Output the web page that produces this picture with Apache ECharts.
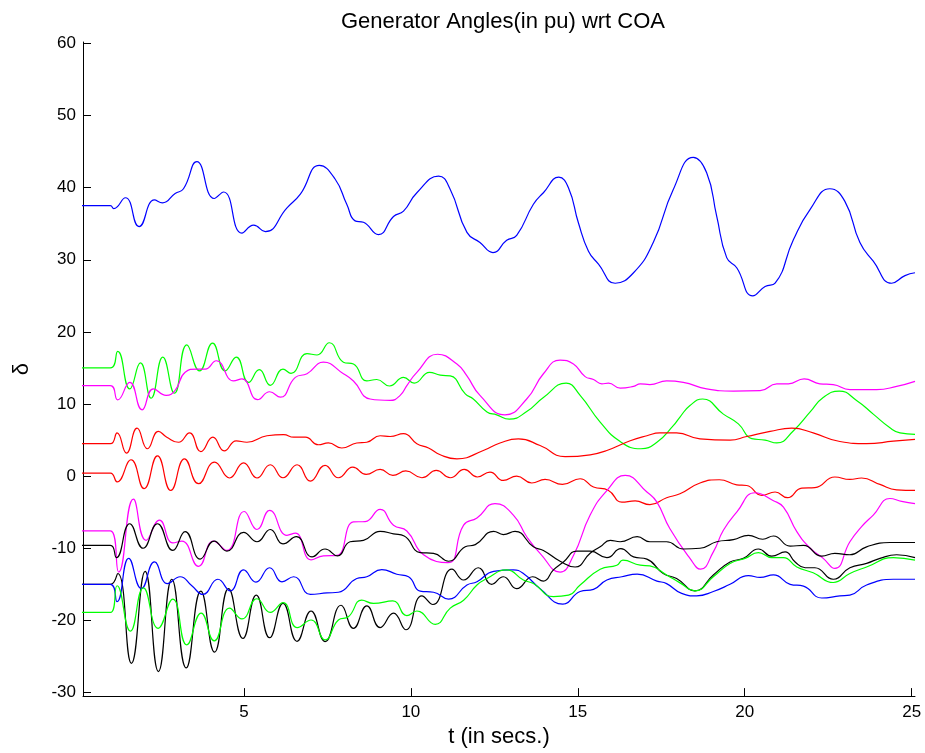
<!DOCTYPE html>
<html>
<head>
<meta charset="utf-8">
<script src="https://cdn.jsdelivr.net/npm/echarts@6/dist/echarts.min.js"></script>
<style>
  html, body { margin: 0; padding: 0; background: #fff; }
  #chart { width: 925px; height: 753px; }
</style>
</head>
<body>
<div id="chart"></div>
<script>
// tick labels
var xTicks = [5, 10, 15, 20, 25]
var yTicks = [-30, -20, -10, 0, 10, 20, 30, 40, 50, 60]

// time (s) and angle for each generator
var blueTopT = [0, 1.0, 1.10, 1.45, 1.86, 2.32, 2.56, 2.94, 3.19, 3.59, 4.11, 4.39, 4.94, 5.29, 5.64, 6.29, 6.69, 7.26, 7.73, 8.08, 8.33, 8.58, 9.03, 9.48, 9.78, 10.18, 10.83, 11.18, 11.68, 12.07, 12.46, 12.87, 13.17, 13.67, 13.97, 14.43, 14.72, 15.02, 15.32, 15.62, 16.12, 16.67, 17.26, 17.86, 18.46, 18.86, 19.16, 19.46, 19.76, 20.24, 20.61, 20.91, 21.46, 21.96, 22.55, 23.0, 23.45, 23.85, 24.40, 24.80, 25.10]
var blueTopV = [37.5, 37.5, 37.1, 38.6, 34.6, 38.3, 37.9, 39.2, 39.85, 43.6, 38.5, 39.4, 33.7, 34.8, 33.9, 37.2, 39.1, 43.1, 41.2, 37.7, 35.4, 35.2, 33.5, 36.0, 36.75, 39.3, 41.6, 39.75, 33.8, 32.4, 31.0, 32.7, 33.4, 37.7, 39.3, 41.45, 40.0, 35.1, 31.2, 29.4, 26.75, 28.2, 32.4, 39.75, 44.2, 42.06, 36.06, 30.3, 28.9, 25.0, 26.3, 26.75, 32.8, 37.0, 39.85, 38.1, 32.4, 29.8, 26.75, 27.8, 28.2]

var greenTopT = [0, 1.0, 1.22, 1.58, 1.90, 2.22, 2.57, 2.92, 3.29, 3.67, 4.06, 4.44, 4.77, 5.14, 5.46, 5.79, 6.17, 6.41, 6.89, 7.19, 7.56, 7.98, 8.28, 8.68, 8.98, 9.36, 9.78, 10.10, 10.56, 10.88, 11.18, 11.63, 11.87, 12.28, 12.57, 12.95, 13.47, 13.97, 14.65, 15.07, 15.67, 16.27, 16.89, 17.37, 17.86, 18.06, 18.36, 18.74, 19.36, 19.81, 20.21, 20.61, 20.96, 21.46, 21.96, 22.35, 22.83, 23.35, 23.85, 24.35, 24.65, 25.10]
var greenTopV = [15, 15, 17.3, 12.1, 15.7, 10.8, 16.5, 11.5, 18.2, 14.6, 18.45, 14.6, 16.5, 13.0, 14.76, 12.6, 14.85, 14.26, 17.0, 16.8, 18.5, 15.8, 15.55, 13.2, 13.4, 12.5, 13.7, 12.9, 14.4, 14.0, 13.9, 11.4, 10.7, 8.9, 8.5, 7.9, 8.95, 10.9, 12.9, 11.2, 7.5, 4.8, 3.8, 4.7, 7.0, 8.2, 9.8, 10.7, 8.6, 7.25, 5.2, 5.0, 4.6, 6.3, 8.9, 10.9, 11.8, 10.5, 8.6, 6.7, 6.0, 5.8]

var magentaTopT = [0, 1.0, 1.22, 1.58, 1.95, 2.29, 2.67, 2.94, 3.24, 3.59, 3.84, 4.17, 4.69, 4.94, 5.41, 5.77, 6.09, 6.54, 6.89, 7.38, 7.98, 8.28, 8.78, 9.38, 9.68, 9.88, 10.18, 10.80, 11.38, 11.68, 12.07, 12.82, 13.47, 13.97, 14.47, 14.87, 15.22, 15.47, 15.72, 15.92, 16.27, 16.67, 16.87, 17.16, 17.66, 18.16, 18.86, 19.66, 20.46, 20.96, 21.31, 21.78, 22.25, 22.65, 23.15, 23.95, 24.55, 25.10]
var magentaTopV = [12.55, 12.55, 10.57, 13.0, 9.2, 12.1, 11.2, 11.9, 14.4, 14.85, 14.85, 16.0, 13.2, 13.5, 10.6, 11.7, 10.95, 13.7, 14.2, 15.8, 14.2, 13.2, 10.7, 10.5, 11.2, 12.55, 14.4, 16.9, 15.55, 13.9, 11.2, 8.5, 10.7, 14.2, 16.1, 15.55, 13.8, 13.4, 12.8, 12.9, 12.2, 12.45, 12.8, 12.7, 13.2, 13.0, 12.1, 11.8, 11.85, 12.8, 12.8, 13.5, 12.8, 12.7, 12.0, 12.0, 12.45, 13.15]

var redTopT = [0, 1.0, 1.20, 1.48, 1.80, 2.11, 2.44, 2.69, 3.04, 3.37, 3.71, 4.07, 4.41, 4.77, 5.09, 5.69, 6.19, 6.49, 6.84, 7.23, 7.53, 7.93, 8.38, 8.68, 9.08, 9.38, 9.78, 10.18, 10.53, 10.88, 11.38, 12.17, 12.67, 13.22, 13.87, 14.62, 15.37, 15.87, 16.57, 17.07, 17.46, 17.96, 18.66, 19.56, 20.06, 20.76, 21.41, 22.05, 22.85, 23.65, 24.45, 25.10]
var redTopV = [4.5, 4.5, 6.0, 3.2, 6.65, 3.8, 6.2, 5.4, 4.7, 6.0, 3.4, 5.4, 3.5, 4.9, 4.7, 5.6, 5.75, 5.4, 5.4, 4.35, 4.6, 3.9, 4.6, 4.7, 5.6, 5.5, 5.9, 4.5, 3.9, 2.96, 2.4, 3.55, 4.6, 5.17, 4.25, 2.7, 2.96, 3.55, 4.9, 5.6, 6.0, 6.0, 5.17, 5.0, 5.5, 6.2, 6.65, 6.0, 4.8, 4.5, 4.85, 5.1]

var redLowT = [0, 1.0, 1.20, 1.62, 2.01, 2.41, 2.81, 3.22, 3.64, 4.12, 4.57, 4.99, 5.39, 5.79, 6.17, 6.59, 6.99, 7.43, 7.83, 8.26, 8.66, 9.08, 9.46, 9.85, 10.33, 10.76, 11.18, 11.60, 11.99, 12.37, 12.77, 13.17, 13.62, 14.02, 14.54, 15.07, 15.47, 15.92, 16.32, 16.72, 17.16, 17.66, 18.06, 18.66, 19.24, 19.76, 20.06, 20.51, 20.91, 21.28, 21.71, 22.10, 22.70, 23.15, 23.50, 24.05, 24.55, 25.10]
var redLowV = [0.43, 0.43, -0.8, 2.27, -1.74, 2.8, -1.98, 2.4, -1.05, 1.95, -0.26, 1.85, -0.26, 1.58, -0.22, 1.58, -0.68, 1.48, -0.22, 1.26, 0.24, 0.93, 0.1, 0.72, -0.22, 0.79, -0.22, 0.93, -0.12, 0.56, -0.6, 0.0, -0.95, -0.46, -1.15, -0.36, -1.5, -1.98, -3.6, -3.44, -3.96, -2.99, -2.45, -0.95, -0.5, -1.2, -1.3, -2.67, -2.2, -2.99, -1.65, -1.6, -0.12, -0.46, -0.26, -1.15, -1.9, -1.98]

var magentaLowT = [0, 1.0, 1.25, 1.69, 2.07, 2.47, 2.87, 3.14, 3.64, 4.09, 4.49, 5.01, 5.39, 5.77, 6.29, 6.54, 7.01, 7.38, 7.78, 8.28, 8.63, 9.08, 9.48, 9.88, 10.38, 11.11, 11.58, 11.98, 12.52, 13.07, 13.47, 13.87, 14.47, 14.87, 15.37, 15.87, 16.42, 17.07, 17.37, 17.76, 18.36, 18.68, 19.06, 19.36, 19.76, 20.31, 20.86, 21.16, 21.56, 21.96, 22.35, 22.70, 23.15, 23.50, 23.85, 24.35, 24.70, 25.10]
var magentaLowV = [-7.6, -7.6, -13.3, -3.2, -8.9, -6.1, -9.25, -9.0, -12.5, -9.0, -10.3, -4.9, -7.4, -4.75, -8.2, -7.9, -11.6, -11.05, -11.0, -6.35, -6.3, -4.6, -6.8, -7.6, -10.9, -12.0, -6.8, -5.8, -3.8, -5.4, -8.4, -10.7, -13.3, -11.0, -5.4, -2.0, 0.1, -2.2, -3.6, -7.3, -11.4, -12.9, -10.5, -7.5, -5.0, -2.3, -3.4, -4.3, -7.7, -10.0, -11.4, -12.8, -9.1, -7.0, -5.4, -3.1, -3.5, -3.8]

var blackTopT = [0, 1.0, 1.18, 1.58, 1.98, 2.41, 2.87, 3.24, 3.69, 4.11, 4.49, 4.99, 5.39, 5.79, 6.17, 6.57, 7.04, 7.43, 7.80, 8.18, 8.58, 9.08, 9.48, 9.80, 10.28, 10.68, 11.13, 11.63, 11.93, 12.48, 12.77, 13.12, 13.67, 13.97, 14.47, 14.92, 15.37, 15.67, 15.97, 16.27, 16.78, 17.16, 17.66, 18.16, 18.66, 19.16, 19.66, 20.11, 20.54, 20.86, 21.36, 21.76, 22.31, 22.70, 23.15, 23.65, 24.35, 25.10]
var blackTopV = [-9.6, -9.6, -11.3, -6.6, -10.0, -6.6, -10.3, -7.7, -11.5, -9.0, -10.4, -7.8, -9.1, -7.4, -9.4, -8.4, -11.2, -10.1, -11.05, -9.1, -8.9, -7.65, -8.0, -8.3, -10.6, -10.7, -11.8, -9.8, -9.5, -7.65, -8.1, -7.65, -9.8, -10.3, -11.8, -12.6, -10.7, -9.8, -8.9, -9.1, -8.4, -9.1, -9.1, -10.1, -10.0, -9.1, -8.8, -8.2, -8.75, -8.3, -9.7, -9.6, -11.1, -10.7, -10.9, -9.8, -9.2, -9.2]

var blackLowT = [0, 1.0, 1.22, 1.63, 2.04, 2.44, 2.84, 3.27, 3.71, 4.12, 4.54, 4.97, 5.37, 5.77, 6.17, 6.59, 7.01, 7.43, 7.91, 8.28, 8.68, 9.08, 9.48, 9.85, 10.33, 10.66, 11.23, 11.58, 12.02, 12.42, 12.77, 13.17, 13.65, 13.97, 14.27, 14.57, 14.97, 15.37, 15.87, 16.29, 16.67, 17.07, 17.56, 17.96, 18.51, 19.06, 19.56, 19.96, 20.41, 20.81, 21.21, 21.51, 21.81, 22.10, 22.65, 23.15, 23.65, 24.05, 24.55, 25.10]
var blackLowV = [-15, -15, -13.5, -25.95, -13.2, -27.1, -14.3, -26.6, -15.95, -24.4, -15.6, -22.5, -16.5, -22.4, -17.65, -22.9, -18.7, -22.95, -17.9, -21.1, -18.0, -21.0, -19.0, -21.3, -16.6, -17.8, -12.9, -14.4, -12.7, -15.0, -13.95, -15.6, -13.95, -14.55, -13.0, -11.9, -10.4, -10.4, -11.3, -10.05, -11.2, -11.5, -13.5, -14.2, -15.9, -13.7, -11.9, -11.4, -10.1, -11.1, -10.5, -11.9, -12.7, -12.7, -14.3, -12.7, -12.1, -11.4, -10.9, -11.3]

var blueLowT = [0, 1.0, 1.20, 1.55, 1.93, 2.32, 2.71, 3.09, 3.44, 3.77, 4.22, 4.59, 4.99, 5.36, 5.77, 6.14, 6.49, 6.99, 7.49, 7.83, 8.38, 8.68, 9.13, 9.58, 9.93, 10.28, 10.68, 11.13, 11.68, 11.98, 12.48, 13.07, 13.37, 13.87, 14.55, 15.07, 15.47, 15.87, 16.32, 16.78, 17.37, 17.66, 18.11, 18.56, 19.06, 19.56, 20.11, 20.46, 20.86, 21.36, 21.76, 22.31, 22.85, 23.15, 23.65, 24.45, 25.10]
var blueLowV = [-15, -15, -17.4, -11.4, -15.6, -11.9, -14.9, -13.95, -15.2, -16.4, -14.3, -15.9, -13.0, -14.7, -12.7, -14.65, -13.95, -16.4, -16.2, -16.1, -14.2, -13.95, -12.95, -13.6, -13.95, -15.95, -16.1, -17.05, -15.1, -14.65, -13.2, -13.0, -13.5, -15.6, -17.75, -16.0, -15.7, -14.4, -13.95, -13.6, -14.55, -14.9, -16.25, -16.6, -16.0, -15.0, -13.8, -14.05, -13.7, -15.0, -15.25, -16.9, -16.6, -16.5, -15.1, -14.3, -14.3]

var greenLowT = [0, 1.0, 1.20, 1.60, 1.99, 2.43, 2.87, 3.29, 3.72, 4.11, 4.57, 4.94, 5.39, 5.79, 6.17, 6.60, 7.01, 7.43, 7.83, 8.13, 8.53, 8.88, 9.46, 9.88, 10.18, 10.73, 11.18, 11.58, 11.98, 12.28, 12.87, 13.37, 13.67, 14.27, 14.72, 15.07, 15.67, 16.17, 16.35, 16.87, 17.16, 17.66, 18.06, 18.51, 19.06, 19.56, 20.01, 20.41, 20.81, 21.16, 21.56, 22.05, 22.65, 23.15, 23.65, 24.45, 25.10]
var greenLowV = [-18.9, -18.9, -15.2, -21.5, -15.5, -21.1, -17.05, -23.4, -19.0, -22.85, -18.3, -19.8, -17.0, -18.9, -17.55, -21.0, -19.95, -22.7, -19.95, -19.5, -17.2, -17.65, -17.3, -19.35, -18.7, -20.55, -18.3, -17.2, -15.1, -14.2, -13.0, -14.4, -14.9, -16.7, -16.5, -15.1, -12.9, -12.35, -11.65, -12.35, -12.45, -13.7, -14.8, -15.9, -13.95, -12.1, -11.4, -10.6, -11.3, -11.3, -12.6, -13.4, -14.75, -13.5, -12.6, -11.3, -11.65]

var lines = [
  { t: blueTopT, v: blueTopV, color: '#0000ff' },
  { t: greenTopT, v: greenTopV, color: '#00ff00' },
  { t: magentaTopT, v: magentaTopV, color: '#ff00ff' },
  { t: redTopT, v: redTopV, color: '#ff0000' },
  { t: redLowT, v: redLowV, color: '#ff0000' },
  { t: magentaLowT, v: magentaLowV, color: '#ff00ff' },
  { t: blackTopT, v: blackTopV, color: '#000000' },
  { t: blackLowT, v: blackLowV, color: '#000000' },
  { t: blueLowT, v: blueLowV, color: '#0000ff' },
  { t: greenLowT, v: greenLowV, color: '#00ff00' }
]

var font = 'Liberation Sans, Arial, Helvetica, sans-serif'

function pairs(t, v) {
  var out = []
  for (var i = 0; i < t.length && i < v.length; i++) {
    out.push([t[i], v[i]])
  }
  return out
}

var chart = echarts.init(document.getElementById('chart'))

var series = []
for (var l = 0; l < lines.length; l++) {
  series.push({
    type: 'line',
    data: pairs(lines[l].t, lines[l].v),
    showSymbol: false,
    smooth: 0.5,
    clip: true,
    lineStyle: { color: lines[l].color, width: 1.2 },
    itemStyle: { color: lines[l].color }
  })
}

chart.setOption({
  animation: false,
  backgroundColor: '#fff',
  title: {
    text: 'Generator Angles(in pu) wrt COA',
    left: 498,
    top: 6,
    textAlign: 'center',
    textStyle: { fontFamily: font, fontSize: 22, fontWeight: 'normal', color: '#000' }
  },
  grid: { left: 83, right: 10, top: 42, bottom: 55 },
  xAxis: {
    type: 'value',
    min: 0.18,
    max: 25.1,
    name: 't (in secs.)',
    nameLocation: 'middle',
    nameGap: 28,
    nameTextStyle: { fontFamily: font, fontSize: 22, color: '#000' },
    axisLine: { onZero: false, lineStyle: { color: '#000', width: 1 } },
    axisTick: { inside: true, length: 8, customValues: xTicks, lineStyle: { color: '#000' } },
    axisLabel: { customValues: xTicks, fontFamily: font, fontSize: 17, color: '#000', margin: 8 },
    splitLine: { show: false }
  },
  yAxis: {
    type: 'value',
    min: -30.5,
    max: 60.2,
    name: 'δ',
    nameLocation: 'middle',
    nameRotate: 90,
    nameGap: 50,
    nameTextStyle: { fontFamily: font, fontSize: 22, color: '#000' },
    axisLine: { show: true, onZero: false, lineStyle: { color: '#000', width: 1 } },
    axisTick: { show: true, inside: true, length: 8, customValues: yTicks, lineStyle: { color: '#000' } },
    axisLabel: { customValues: yTicks, fontFamily: font, fontSize: 17, color: '#000', margin: 7 },
    splitLine: { show: false }
  },
  series: series
})
</script>
</body>
</html>
